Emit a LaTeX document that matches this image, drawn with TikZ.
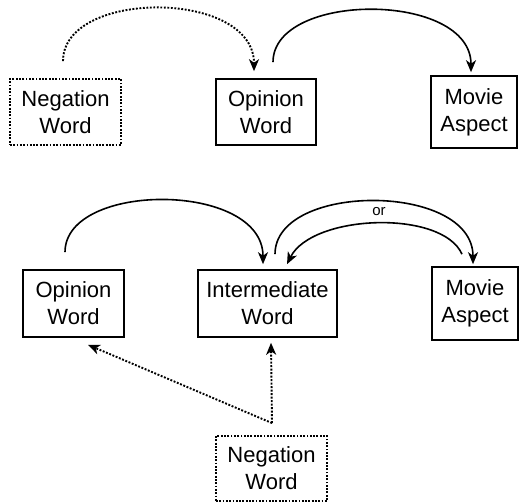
\documentclass[tikz,border=0pt]{standalone}
\usepackage{fontspec}
\setmainfont{Liberation Sans}
\usetikzlibrary{arrows.meta,calc}
\begin{document}
\begin{tikzpicture}[x=1pt,y=-1pt,
 box/.style={draw, line width=1.6pt, inner sep=0pt, align=center, font=\fontsize{22}{27}\selectfont},
 dotbox/.style={box, line width=1.8pt, dash pattern=on 1.8pt off 1.5pt},
 conn/.style={line width=1.6pt, -{Stealth[length=12pt,width=10pt,inset=3.5pt]}},
 dotconn/.style={conn, line width=1.9pt, dash pattern=on 1.9pt off 1.6pt},
 lbl/.style={font=\fontsize{15}{16}\selectfont, inner sep=0pt}]
\useasboundingbox (0,0) rectangle (519,502);
\node[dotbox, minimum width=111pt, minimum height=66pt] (neg1) at (65.5,112) {Negation\\Word};
\node[box, minimum width=100pt, minimum height=66pt] (op1) at (266,112) {Opinion\\Word};
\node[box, minimum width=86pt, minimum height=72pt] (mv1) at (474,112) {Movie\\Aspect};
\node[box, minimum width=101pt, minimum height=67pt] (op2) at (73.5,303.5) {Opinion\\Word};
\node[box, minimum width=139pt, minimum height=67pt] (im) at (267.5,303.5) {Intermediate\\Word};
\node[box, minimum width=86pt, minimum height=73pt] (mv2) at (475,303.5) {Movie\\Aspect};
\node[dotbox, minimum width=111pt, minimum height=65pt] (neg2) at (271.5,468.5) {Negation\\Word};
\node[lbl] (or) at (379,212) {or};
% top
\draw[dotconn] ([xshift=-2.5pt,yshift=17pt]neg1.north) .. controls +(0,-72) and +(0,-82) .. ([xshift=-12pt,yshift=7pt]op1.north);
\draw[conn] ([xshift=7pt,yshift=16pt]op1.north) .. controls +(0,-71) and +(0,-81) .. ([xshift=-3pt,yshift=3pt]mv1.north);
% bottom
\draw[conn] ([xshift=-8.5pt,yshift=17pt]op2.north) .. controls +(0,-71) and +(0,-83) .. ([xshift=-4.5pt,yshift=5pt]im.north);
\draw[conn] ([xshift=7.5pt,yshift=15pt]im.north) .. controls +(0,-72) and +(0,-82) .. ([xshift=-2pt,yshift=2pt]mv2.north);
\draw[conn] ([xshift=-13pt,yshift=12pt]mv2.north) .. controls +(-20,-45) and +(25,-50) .. ([xshift=19.5pt,yshift=5pt]im.north);
\draw[dotconn] ([xshift=0.5pt,yshift=12pt]neg2.north) -- ([xshift=14.5pt,yshift=-7pt]op2.south);
\draw[dotconn] ([xshift=0.5pt,yshift=12pt]neg2.north) -- ([xshift=3.5pt,yshift=-5pt]im.south);
\end{tikzpicture}
\end{document}
